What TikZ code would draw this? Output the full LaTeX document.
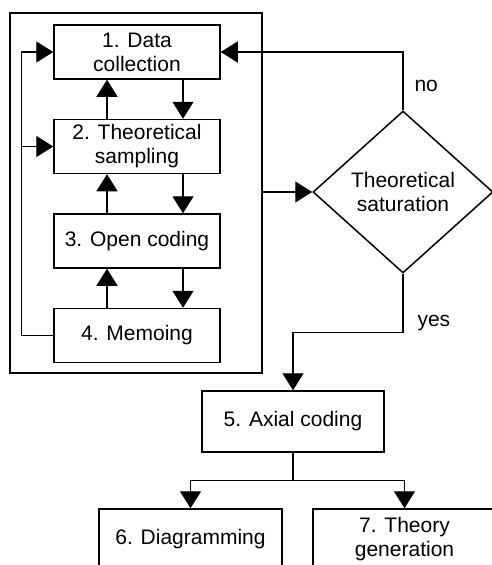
\documentclass[tikz,border=0pt]{standalone}
\usepackage{fontspec}
\setmainfont{Liberation Sans}
\usetikzlibrary{positioning}
\usetikzlibrary{shapes.geometric}
\usetikzlibrary{arrows.meta}
\usetikzlibrary{calc}
\tikzset{stage/.style={draw, line width=1.5pt, align=center, minimum width=166pt, minimum height=54pt, inner sep=2pt}}
\tikzset{flow/.style={line width=1.4pt, -{Triangle[length=17pt,width=21pt]}}}
\tikzset{plain/.style={line width=1.4pt}}

\begin{document}
\begin{tikzpicture}[x=1pt, y=-1pt, node distance=39pt, font=\fontsize{21}{24}\selectfont]
\useasboundingbox (0,0) rectangle (492,565);
\clip (0,0) rectangle (492,565);
% iterative loop
\node[stage] (data) at (137,52) {1. Data\\collection};
\node[stage, below=of data] (samp) {2. Theoretical\\sampling};
\node[stage, below=of samp] (open) {3. Open coding};
\node[stage, below=of open] (memo) {4. Memoing};
\node[draw, line width=1.5pt, minimum width=252pt, minimum height=360pt, inner sep=0pt] (loop) at (136,193) {};
% decision and later steps
\node[draw, diamond, line width=1.5pt, minimum width=180pt, minimum height=162pt, inner sep=0pt, align=center] (sat) at (403,192) {Theoretical\\saturation};
\node[stage, minimum width=182pt, minimum height=61pt] (axial) at (293,421.5) {5. Axial coding};
\node[stage, minimum width=183pt, minimum height=60pt] (diag) at (190.5,539) {6. Diagramming};
\node[stage, minimum width=183pt, minimum height=60pt] (theory) at (404.5,539) {7. Theory\\generation};

\draw[flow] ([xshift=46]data.south) -- ([xshift=46]samp.north);
\draw[flow] ([xshift=-30]samp.north) -- ([xshift=-30]data.south);
\draw[flow] ([xshift=46]samp.south) -- ([xshift=46]open.north);
\draw[flow] ([xshift=-30]open.north) -- ([xshift=-30]samp.south);
\draw[flow] ([xshift=46]open.south) -- ([xshift=46]memo.north);
\draw[flow] ([xshift=-30]memo.north) -- ([xshift=-30]open.south);

\coordinate (fb) at ($(memo.west)+(-32,0)$);
\draw[flow] (memo.west) -- (fb) |- (data.west);
\draw[flow] (fb |- samp.west) -- (samp.west);

\draw[flow] (sat.west -| loop.east) -- (sat.west);
\draw[flow] (sat.north) |- (data.east);
\node[anchor=west] (nolbl) at ([xshift=8pt,yshift=24pt]sat.north) {no};
\draw[flow] (sat.south) -- ++(0,59) -| (axial.north);
\node[anchor=west] (yeslbl) at (414,323) {yes};

\draw[plain] (axial.south) -- ++(0,28) coordinate (split);
\draw[flow] (split) -| (diag.north);
\draw[flow] (split) -| (theory.north);
\end{tikzpicture}
\end{document}
